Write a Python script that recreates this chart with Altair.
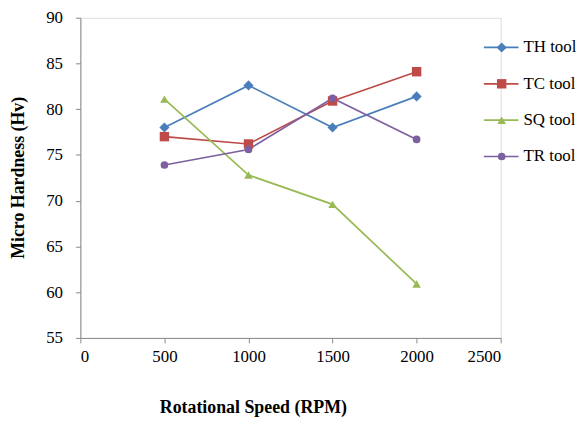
import altair as alt
import pandas as pd

speeds = [500, 1000, 1500, 2000]
tools = ["TH tool", "TC tool", "SQ tool", "TR tool"]
th_vals = [78.0, 82.6, 78.0, 81.4]
tc_vals = [77.0, 76.2, 80.9, 84.1]
sq_vals = [81.1, 72.8, 69.6, 60.9]
tr_vals = [73.9, 75.6, 81.2, 76.7]
colors = ["#4a7ebb", "#be4b48", "#98b954", "#7d60a0"]
shapes = ["diamond", "square", "triangle-up", "circle"]
sizes = [105, 60, 165, 150]

rows = []
for tool, vals in zip(tools, [th_vals, tc_vals, sq_vals, tr_vals]):
    for s, v in zip(speeds, vals):
        rows.append({"speed": s, "hardness": v, "tool": tool})
df = pd.DataFrame(rows)
leg = pd.DataFrame({"tool": tools})

FONT = "Liberation Serif"
W, H = 424, 323

x = alt.X("speed:Q", scale=alt.Scale(domain=[0, 2500]),
          axis=alt.Axis(values=[0, 500, 1000, 1500, 2000, 2500], format="d",
                        title="Rotational Speed (RPM)",
                        grid=False, domainColor="#898989", tickColor="#898989", tickSize=5,
                        labelFont=FONT, labelFontSize=17, labelColor="#000", labelPadding=6,
                        titleFont=FONT, titleFontSize=18, titleFontWeight="bold", titleColor="#000",
                        titleX=174, titleY=70, titleAlign="center", titleBaseline="middle"))
y = alt.Y("hardness:Q", scale=alt.Scale(domain=[55, 90]),
          axis=alt.Axis(values=[55, 60, 65, 70, 75, 80, 85, 90], title="Micro Hardness (Hv)",
                        grid=False, domainColor="#898989", tickColor="#898989", tickSize=5,
                        labelFont=FONT, labelFontSize=17, labelColor="#000", labelPadding=13,
                        titleFont=FONT, titleFontSize=18, titleFontWeight="bold", titleColor="#000",
                        titleX=-62, titleY=161, titleAngle=270, titleAlign="center",
                        titleBaseline="middle"))
color = alt.Color("tool:N", scale=alt.Scale(domain=tools, range=colors), legend=None)
shape = alt.Shape("tool:N", scale=alt.Scale(domain=tools, range=shapes), legend=None)
size = alt.Size("tool:N", scale=alt.Scale(domain=tools, range=sizes), legend=None)

lines = alt.Chart(df).mark_line(strokeWidth=1.7).encode(x=x, y=y, color=color, detail="tool:N")
points = alt.Chart(df).mark_point(filled=True, opacity=1).encode(x=x, y=y, color=color, shape=shape, size=size)
main = alt.layer(lines, points)

ly = alt.Y("tool:N", scale=alt.Scale(type="point", domain=tools, range=[30, 140], padding=0), axis=None)
leg_rule = alt.Chart(leg).mark_rule(strokeWidth=1.7).encode(
    x=alt.value(407), x2=alt.value(442), y=ly, color=color)
leg_pt = alt.Chart(leg).mark_point(filled=True, opacity=1).encode(
    x=alt.value(425), y=ly, color=color, shape=shape, size=size)
leg_txt = alt.Chart(leg).mark_text(align="left", baseline="middle", font=FONT, fontSize=17,
                                   color="#000").encode(x=alt.value(447), y=ly, text="tool:N")
legend = alt.layer(leg_rule, leg_pt, leg_txt)

chart = alt.layer(main, legend).resolve_scale(y="independent").properties(
    width=W, height=H,
    autosize=alt.AutoSizeParams(type="none"),
    padding={"left": 73, "top": 8, "right": 78, "bottom": 82},
).configure_view(stroke=None).configure(background="white")

chart.save("out.html", embed_options={"renderer": "svg", "actions": False})
